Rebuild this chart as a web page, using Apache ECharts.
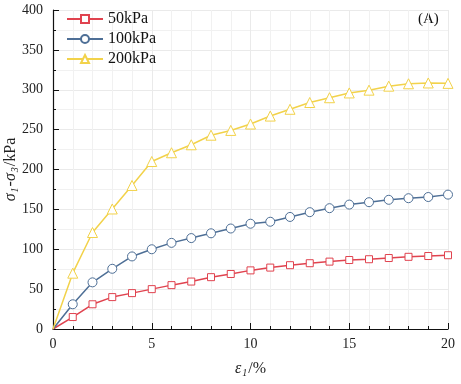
<!DOCTYPE html>
<html>
<head>
<meta charset="utf-8">
<script src="https://cdn.jsdelivr.net/npm/echarts@6/dist/echarts.min.js"></script>
<style>
    html, body { margin: 0; padding: 0; background: #fff; }
    #chart { width: 461px; height: 384px; }
</style>
</head>
<body>
<div id="chart"></div>
<script>
    var strain = [0, 1, 2, 3, 4, 5, 6, 7, 8, 9, 10, 11, 12, 13, 14, 15, 16, 17, 18, 19, 20];
    var kpa50 = [0, 15, 31, 40, 45, 50, 55, 59.5, 65, 69, 73.5, 77, 80, 82.5, 84.5, 86.5, 87.5, 89, 90.5, 91.5, 92.5];
    var kpa100 = [0, 31, 58.5, 75.5, 91, 100, 108, 114, 120, 126, 132, 134.5, 140.5, 146.5, 151.5, 156, 159, 162, 164, 165.5, 168.5];
    var kpa200 = [0, 70, 121, 150.5, 180, 210, 221, 231, 243, 249, 257, 267, 275.5, 284, 290, 296, 299.5, 304.5, 307.5, 308.5, 308];
    var seriesNames = ['50kPa', '100kPa', '200kPa'];
    var seriesColors = ['#e0434f', '#4e6f96', '#f2d24a'];
    var seriesSymbols = ['rect', 'circle', 'triangle'];
    var symbolSizes = [7, 9, 10];

    var font = 'Liberation Serif';
    var chart = echarts.init(document.getElementById('chart'));

    // origin point drawn without a marker, like the original plot
    function pairs(vals) {
        return strain.map(function (x, i) {
            return i === 0 ? { value: [x, vals[i]], symbolSize: 0 } : [x, vals[i]];
        });
    }

    var allData = [kpa50, kpa100, kpa200];
    var series = allData.map(function (vals, i) {
        return {
            name: seriesNames[i],
            type: 'line',
            data: pairs(vals),
            symbol: seriesSymbols[i],
            symbolSize: symbolSizes[i],
            showAllSymbol: true,
            color: seriesColors[i],
            lineStyle: { color: seriesColors[i], width: 1.5 },
            itemStyle: { color: '#fff', borderColor: seriesColors[i], borderWidth: 1 },
            z: 3 + i
        };
    });

    var option = {
        animation: false,
        backgroundColor: '#fff',
        textStyle: { fontFamily: font },
        grid: { left: 53, right: 13, top: 10, bottom: 55, containLabel: false, outerBoundsMode: 'none' },
        legend: {
            orient: 'vertical',
            left: 61,
            top: 6,
            itemGap: 4,
            itemWidth: 36,
            itemHeight: 10,
            data: seriesNames,
            textStyle: { fontFamily: font, fontSize: 16, color: '#111' }
        },
        graphic: [{
            type: 'text',
            left: 418,
            top: 12,
            style: { text: '(A)', font: '15px "Liberation Serif"', fill: '#111' }
        }],
        xAxis: {
            type: 'value',
            min: 0,
            max: 20,
            interval: 5,
            name: '{e|ε}{s|1}{n|/%}',
            nameLocation: 'middle',
            nameMoveOverlap: false,
            nameGap: 30,
            nameTextStyle: {
                rich: {
                    e: { fontFamily: font, fontStyle: 'italic', fontSize: 16, color: '#222' },
                    s: { fontFamily: font, fontStyle: 'italic', fontSize: 10, color: '#222', padding: [9, 1, 0, 1] },
                    n: { fontFamily: font, fontSize: 16, color: '#222' }
                }
            },
            axisLine: { show: true, onZero: false, lineStyle: { color: '#111', width: 1.2 } },
            axisTick: { show: true, inside: true, length: 6, lineStyle: { color: '#111' } },
            minorTick: { show: true, splitNumber: 5, length: 3, lineStyle: { color: '#111' } },
            axisLabel: { fontFamily: font, fontSize: 14, color: '#222', margin: 8 },
            splitLine: { show: true, lineStyle: { color: '#eaeaea', width: 1 } },
            minorSplitLine: { show: true, lineStyle: { color: '#f1f1f1', width: 1 } }
        },
        yAxis: {
            type: 'value',
            min: 0,
            max: 400,
            interval: 50,
            name: '{g|σ}{s|1}{g|-σ}{s|3}{n|/kPa}',
            nameLocation: 'middle',
            nameMoveOverlap: false,
            nameGap: 33,
            nameTextStyle: {
                rich: {
                    g: { fontFamily: font, fontStyle: 'italic', fontSize: 16, color: '#222' },
                    s: { fontFamily: font, fontStyle: 'italic', fontSize: 10, color: '#222', padding: [9, 1, 0, 1] },
                    n: { fontFamily: font, fontSize: 16, color: '#222' }
                }
            },
            axisLine: { show: true, lineStyle: { color: '#111', width: 1.2 } },
            axisTick: { show: true, inside: true, length: 6, lineStyle: { color: '#111' } },
            minorTick: { show: true, splitNumber: 2, length: 3, lineStyle: { color: '#111' } },
            axisLabel: { fontFamily: font, fontSize: 14, color: '#222', margin: 10 },
            splitLine: { show: true, lineStyle: { color: '#eaeaea', width: 1 } },
            minorSplitLine: { show: true, lineStyle: { color: '#f1f1f1', width: 1 } }
        },
        series: series
    };

    chart.setOption(option);
</script>
</body>
</html>
